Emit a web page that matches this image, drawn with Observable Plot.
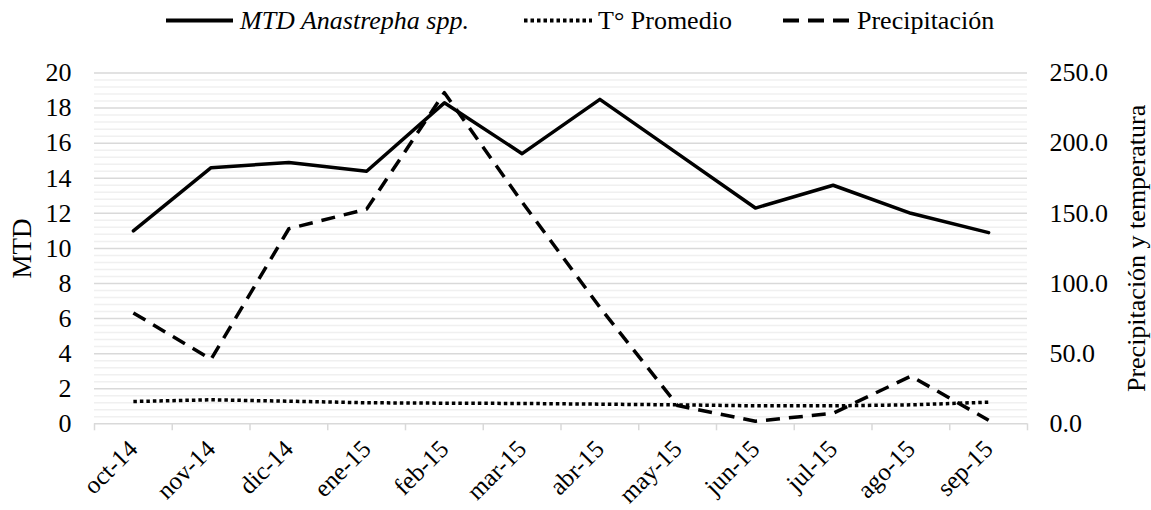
<!DOCTYPE html>
<html>
<head>
<meta charset="utf-8">
<script src="https://cdn.jsdelivr.net/npm/d3@7"></script>
<script src="https://cdn.jsdelivr.net/npm/@observablehq/plot@0.6"></script>
<style>
  html, body { margin: 0; padding: 0; background: #fff; }
  #wrap { width: 1151px; height: 510px; position: relative; font-family: "Liberation Serif", "DejaVu Serif", serif; }
  svg { display: block; }
  svg text { font-family: "Liberation Serif", "DejaVu Serif", serif; }
</style>
</head>
<body>
<div id="wrap"></div>
<script>
// ---- data ----
const months = ["oct-14","nov-14","dic-14","ene-15","feb-15","mar-15","abr-15","may-15","jun-15","jul-15","ago-15","sep-15"];
const mtd    = [11.0, 14.6, 14.9, 14.4, 18.3, 15.4, 18.5, 15.4, 12.3, 13.6, 12.0, 10.9];
const tempProm = [15.9, 17.1, 16.1, 15.0, 14.7, 14.5, 14.0, 13.5, 12.8, 12.8, 13.5, 15.4];
const precip = [79, 46, 139, 153, 236, 158, 83, 13, 1.8, 7.5, 34, 2.5];
const leftTicks = [0, 2, 4, 6, 8, 10, 12, 14, 16, 18, 20];
const rightTicks = [0, 50, 100, 150, 200, 250];
const seriesNames = ["MTD Anastrepha spp.", "T° Promedio", "Precipitación"];
const leftTitle = "MTD";
const rightTitle = "Precipitación y temperatura";

const ratio = 250 / 20; // right axis units per left-axis unit
const rows = months.map((m, i) => ({i, m, mtd: mtd[i], temp: tempProm[i], precip: precip[i]}));

const FONT = '"Liberation Serif", "DejaVu Serif", serif';
const wrap = document.getElementById("wrap");

// ---- legend (above the chart) ----
const W = 1151;
const leg = d3.create("svg").attr("width", W).attr("height", 40)
  .style("font-size", "26px");
const legItems = [
  {x0: 166, x1: 233, tx: 240, dash: null, italic: true},
  {x0: 524, x1: 592, tx: 598, dash: "3.5,3", italic: false},
  {x0: 783, x1: 850, tx: 857, dash: "16,9", italic: false}
];
legItems.forEach((it, k) => {
  leg.append("line").attr("x1", it.x0).attr("x2", it.x1).attr("y1", 20.5).attr("y2", 20.5)
    .attr("stroke", "#000").attr("stroke-width", 4)
    .attr("stroke-dasharray", it.dash);
  leg.append("text").attr("x", it.tx).attr("y", 29).text(seriesNames[k])
    .style("font-style", it.italic ? "italic" : "normal").attr("fill", "#000");
});
wrap.appendChild(leg.node());

// ---- chart ----
const minor = d3.range(0, 20.0001, 0.4).filter(v => Math.abs(v / 2 - Math.round(v / 2)) > 1e-6);
const plotLeft = 94, plotRight = 1027;
const pxPerX = (plotRight - plotLeft) / months.length;

const chart = Plot.plot({
  width: W,
  height: 470,
  marginTop: 32.5,
  marginBottom: 86.7,
  marginLeft: plotLeft,
  marginRight: W - plotRight,
  style: {fontFamily: FONT, fontSize: "26px", color: "#000", background: "#fff"},
  x: {type: "linear", domain: [0, months.length], axis: null},
  y: {domain: [0, 20], axis: null},
  marks: [
    Plot.ruleY(minor, {stroke: "#f0f0f0", strokeWidth: 1.5}),
    Plot.ruleY(leftTicks, {stroke: "#d9d9d9", strokeWidth: 1.5}),
    // boundary ticks
    Plot.axisX({ticks: d3.range(months.length + 1), tickFormat: () => "", tickSize: 7, stroke: "#d9d9d9", strokeWidth: 1.5, tickPadding: 0}),
    // category labels
    Plot.axisX({ticks: rows.map(d => d.i + 0.5), tickFormat: v => months[Math.floor(v)], tickSize: 0, tickRotate: -45, tickPadding: 21, fontSize: 25, fill: "#000"}),
    Plot.axisY({anchor: "left", ticks: leftTicks, tickSize: 0, tickPadding: 23, tickFormat: d => String(d), fill: "#000", label: null}),
    Plot.axisY({anchor: "right", ticks: rightTicks.map(v => v / ratio), tickSize: 0, tickPadding: 22, tickFormat: d => (d * ratio).toFixed(1), fill: "#000", label: null}),
    Plot.text([leftTitle], {x: -72 / pxPerX, y: 10, rotate: -90, fontSize: 27, fill: "#000", clip: false}),
    Plot.text([rightTitle], {x: months.length + 109 / pxPerX, y: 10, rotate: -90, fontSize: 26, fill: "#000", clip: false}),
    Plot.line(rows, {x: d => d.i + 0.5, y: d => d.precip / ratio, stroke: "#000", strokeWidth: 3.5, strokeDasharray: "14,9", strokeLinecap: "butt", strokeLinejoin: "round"}),
    Plot.line(rows, {x: d => d.i + 0.5, y: d => d.temp / ratio, stroke: "#000", strokeWidth: 3.5, strokeDasharray: "3.5,3", strokeLinecap: "butt"}),
    Plot.line(rows, {x: d => d.i + 0.5, y: "mtd", stroke: "#000", strokeWidth: 3.5, strokeLinejoin: "round"})
  ]
});
wrap.appendChild(chart);
</script>
</body>
</html>
